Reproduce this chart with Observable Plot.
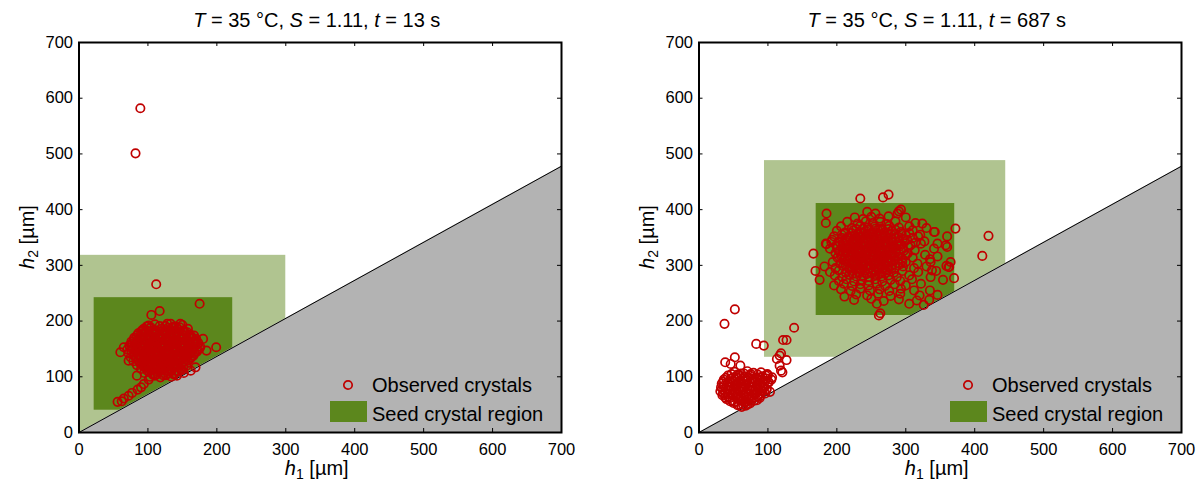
<!DOCTYPE html>
<html>
<head>
<meta charset="utf-8">
<script src="https://cdn.jsdelivr.net/npm/d3@7"></script>
<script src="https://cdn.jsdelivr.net/npm/@observablehq/plot@0.6"></script>
<style>
  body { margin: 0; background: #fff; font-family: "Liberation Sans", Arial, sans-serif; color: #000; }
  #wrap { position: relative; width: 1200px; height: 482px; overflow: hidden; }
  .panel { position: absolute; top: 0; width: 600px; height: 482px; }
  .panel svg { position: absolute; left: 0; top: 0; }
  .lbl { position: absolute; font-size: 20px; line-height: 20px; white-space: nowrap; }
  .lbl sub { font-size: 70%; line-height: 0; vertical-align: -0.3em; }
  .swatch { position: absolute; }
</style>
</head>
<body>
<div id="wrap"></div>
<script>
// Shared axis ticks and the h2 = k·h1 boundary of the inaccessible region
const ticks = [0, 100, 200, 300, 400, 500, 600, 700];
const boundary = [[0, 0], [700, 478]];

// Seed crystal regions: [h1 min, h1 max, h2 min, h2 max]
const seedOuter13 = [0, 300, 0, 318];
const seedInner13 = [22, 223, 40, 242];
const seedOuter687 = [95, 445, 135, 488];
const seedInner687 = [170, 371, 210, 411];

// Observed crystals at t = 13 s, [h1, h2] in µm
const crystals13 = [
  [82, 501], [89, 582], [112, 266], [175, 231], [105, 211], [117, 218],
  [199, 153], [185, 147], [180, 168], [65, 153], [60, 144], [72, 129], [84, 102],
  [94, 186], [101, 192], [128, 195], [147, 195], [169, 117], [162, 111],
  [56, 55], [62, 56], [65, 61], [72, 66], [77, 71], [85, 77], [90, 81], [94, 87], [101, 95],
  [98, 190], [110, 194], [125, 191], [133, 195], [141, 190], [150, 193],
  [92, 184], [103, 187], [112, 183], [119, 186], [127, 184], [136, 188], [144, 185], [152, 183], [158, 186],
  [86, 178], [95, 180], [101, 176], [108, 179], [116, 177], [123, 180], [131, 176], [138, 179], [146, 177], [153, 180], [161, 176],
  [80, 170], [89, 172], [97, 169], [104, 173], [111, 170], [118, 172], [126, 169], [134, 173], [141, 170], [149, 172], [156, 169], [164, 171], [170, 168],
  [76, 163], [84, 165], [92, 162], [99, 166], [106, 163], [114, 165], [121, 162], [129, 166], [137, 163], [144, 165], [151, 162], [159, 165], [166, 163], [173, 161],
  [73, 156], [81, 158], [88, 155], [95, 159], [103, 156], [110, 158], [117, 155], [124, 159], [132, 156], [139, 158], [147, 155], [154, 158], [162, 156], [169, 158], [176, 154],
  [70, 149], [78, 151], [86, 148], [93, 152], [100, 149], [107, 151], [114, 148], [121, 152], [128, 149], [136, 151], [143, 148], [150, 152], [158, 149], [165, 151], [172, 148],
  [72, 142], [80, 144], [87, 141], [95, 145], [102, 142], [109, 144], [117, 141], [124, 145], [131, 142], [138, 144], [146, 141], [153, 144], [160, 142], [168, 143],
  [75, 135], [83, 137], [90, 134], [97, 138], [104, 135], [112, 137], [119, 134], [126, 138], [133, 135], [141, 137], [148, 134], [156, 137], [163, 135],
  [79, 128], [86, 130], [93, 127], [100, 131], [108, 128], [115, 130], [122, 127], [130, 131], [137, 128], [144, 130], [151, 127], [158, 129],
  [84, 121], [91, 123], [98, 120], [105, 124], [112, 121], [120, 123], [127, 120], [134, 124], [141, 121], [148, 123], [156, 120],
  [90, 114], [97, 116], [104, 113], [111, 117], [118, 114], [126, 116], [133, 113], [140, 117], [148, 114],
  [95, 107], [102, 109], [109, 106], [116, 110], [123, 107], [131, 109], [138, 106], [145, 110], [152, 107],
  [103, 100], [110, 102], [118, 99], [126, 103], [134, 100], [142, 102],
  [104, 189], [117, 191], [129, 188], [137, 190], [146, 189],
  [90, 181], [98, 183], [105, 182], [112, 180], [120, 182], [127, 181], [135, 183], [142, 181], [150, 182], [157, 180],
  [84, 174], [93, 175], [100, 173], [108, 176], [115, 174], [122, 175], [130, 173], [137, 176], [145, 174], [152, 175], [160, 173], [167, 174],
  [80, 167], [88, 168], [95, 166], [103, 169], [110, 167], [117, 168], [125, 166], [133, 169], [140, 167], [147, 168], [155, 166], [162, 168], [170, 165],
  [77, 160], [85, 161], [92, 159], [99, 162], [107, 160], [114, 161], [121, 159], [128, 162], [136, 160], [143, 161], [150, 159], [158, 161], [165, 160], [172, 158],
  [74, 153], [82, 154], [90, 152], [97, 155], [104, 153], [111, 154], [118, 152], [125, 155], [132, 153], [140, 154], [147, 152], [154, 155], [161, 153], [168, 154], [175, 151],
  [76, 146], [83, 147], [91, 145], [98, 148], [105, 146], [113, 147], [120, 145], [127, 148], [135, 146], [142, 147], [149, 145], [157, 147], [164, 146], [171, 145],
  [79, 139], [87, 140], [94, 138], [101, 141], [108, 139], [115, 140], [122, 138], [130, 141], [137, 139], [145, 140], [152, 138], [160, 140], [166, 138],
  [83, 132], [90, 133], [97, 131], [104, 134], [111, 132], [119, 133], [126, 131], [133, 134], [140, 132], [148, 133], [155, 131], [161, 132],
  [88, 125], [95, 126], [102, 124], [109, 127], [116, 125], [123, 126], [131, 124], [138, 127], [145, 125], [152, 126],
  [94, 118], [101, 119], [108, 117], [115, 120], [122, 118], [129, 119], [137, 117], [144, 120], [151, 118],
  [99, 111], [106, 112], [113, 110], [120, 113], [127, 111], [134, 112], [142, 110], [149, 112],
  [107, 104], [114, 105], [122, 103], [130, 106], [138, 104]
];

// Observed crystals at t = 687 s, [h1, h2] in µm
const crystals687 = [
  // small crystals near the origin
  [37, 195], [52, 221], [138, 188], [83, 159], [94, 156], [122, 166], [127, 166],
  [119, 142], [113, 132], [127, 130], [119, 111], [99, 105], [106, 99], [101, 90], [98, 78],
  [38, 126], [46, 123], [52, 135], [60, 120], [117, 120], [117, 138], [121, 108], [97, 102],
  [52, 109], [61, 106], [70, 110], [79, 107], [90, 108],
  [42, 102], [50, 99], [58, 103], [66, 100], [74, 102], [83, 99], [92, 101], [100, 103],
  [36, 95], [44, 92], [52, 96], [60, 93], [68, 95], [76, 92], [85, 96], [96, 93], [105, 95],
  [33, 88], [40, 85], [48, 89], [56, 86], [64, 88], [72, 85], [80, 89], [89, 86], [99, 88],
  [32, 81], [39, 78], [46, 82], [54, 79], [62, 81], [70, 78], [78, 82], [86, 79], [95, 81],
  [31, 74], [38, 71], [45, 75], [52, 72], [60, 74], [68, 71], [76, 75], [84, 72], [92, 74], [103, 73],
  [34, 67], [42, 64], [49, 68], [57, 65], [65, 67], [73, 64], [81, 68], [89, 66],
  [40, 60], [48, 57], [56, 61], [64, 58], [72, 60], [80, 57], [88, 62],
  [50, 53], [58, 50], [66, 54], [74, 52], [62, 46], [68, 48],
  [47, 105], [56, 104], [65, 106], [75, 105], [85, 104],
  [39, 98], [47, 97], [55, 99], [63, 97], [71, 99], [79, 97], [88, 98], [97, 97],
  [35, 91], [42, 90], [50, 92], [58, 90], [66, 92], [74, 90], [82, 92], [92, 91], [101, 90],
  [36, 84], [44, 83], [52, 85], [60, 83], [68, 85], [76, 83], [84, 85], [93, 83],
  [35, 77], [42, 76], [50, 78], [58, 76], [66, 78], [74, 76], [82, 78], [90, 76], [98, 77],
  [35, 70], [42, 69], [49, 71], [56, 69], [64, 71], [72, 69], [80, 71], [88, 69], [96, 70],
  [38, 63], [45, 62], [53, 64], [61, 62], [69, 64], [77, 62], [85, 64],
  [45, 56], [52, 55], [60, 57], [68, 55], [76, 57], [84, 58],
  [56, 49], [64, 50], [71, 51],
  // grown seed crystals
  [234, 420], [267, 422], [275, 427], [185, 393], [184, 376], [184, 339], [192, 342],
  [342, 360], [372, 366], [360, 333], [363, 297], [359, 299], [288, 393], [293, 400],
  [321, 355], [338, 291], [411, 317], [420, 353], [263, 214], [261, 210],
  [244, 396], [256, 393], [290, 397],
  [226, 386], [238, 383], [250, 387], [262, 384], [275, 388], [300, 386],
  [215, 378], [230, 375], [242, 379], [252, 376], [263, 378], [272, 374], [285, 379], [314, 376], [324, 375],
  [206, 370], [222, 367], [234, 371], [245, 368], [255, 370], [264, 366], [276, 371], [290, 368], [305, 370], [330, 367],
  [200, 362], [212, 359], [224, 363], [233, 360], [242, 362], [251, 358], [260, 363], [269, 359], [280, 362], [293, 360], [310, 363], [341, 360],
  [196, 352], [207, 355], [217, 351], [226, 354], [235, 352], [244, 356], [252, 351], [261, 354], [270, 352], [279, 355], [289, 351], [300, 354], [318, 352], [360, 352],
  [193, 346], [203, 343], [213, 347], [222, 344], [230, 346], [238, 343], [246, 347], [254, 344], [262, 346], [271, 343], [280, 347], [290, 344], [302, 346], [327, 343], [346, 339],
  [185, 338], [199, 336], [209, 339], [218, 335], [226, 338], [234, 336], [242, 339], [250, 335], [258, 338], [266, 336], [274, 339], [283, 335], [293, 338], [307, 336], [322, 339], [358, 336],
  [190, 330], [204, 327], [213, 331], [221, 328], [229, 330], [237, 327], [245, 331], [253, 328], [261, 330], [269, 327], [277, 331], [286, 328], [296, 330], [313, 327], [341, 330],
  [166, 321], [198, 322], [208, 319], [216, 323], [224, 320], [232, 322], [240, 319], [248, 323], [256, 320], [264, 322], [272, 319], [281, 323], [291, 320], [303, 322], [328, 319], [346, 316],
  [201, 314], [211, 311], [219, 315], [227, 312], [235, 314], [243, 311], [251, 315], [259, 312], [267, 314], [275, 311], [284, 315], [294, 312], [310, 314], [335, 311],
  [194, 306], [205, 303], [214, 307], [222, 304], [230, 306], [238, 303], [246, 307], [254, 304], [262, 306], [270, 303], [279, 307], [289, 304], [300, 306], [317, 303], [336, 306], [365, 306],
  [182, 298], [198, 295], [209, 299], [218, 296], [226, 298], [234, 295], [242, 299], [250, 296], [258, 298], [266, 295], [275, 299], [285, 296], [296, 298], [312, 295], [330, 298], [362, 297],
  [169, 290], [190, 288], [203, 291], [213, 287], [222, 290], [231, 288], [240, 291], [249, 287], [257, 290], [265, 288], [274, 291], [283, 287], [295, 290], [318, 288], [344, 290],
  [197, 282], [208, 279], [218, 283], [228, 280], [238, 282], [247, 279], [256, 283], [265, 280], [275, 282], [287, 279], [305, 282], [336, 279], [370, 277],
  [175, 274], [203, 272], [214, 275], [225, 271], [236, 274], [246, 272], [256, 275], [266, 271], [278, 274], [292, 272], [309, 275], [354, 274],
  [196, 264], [210, 267], [222, 263], [234, 266], [246, 264], [258, 267], [270, 263], [284, 266], [300, 264], [322, 267],
  [206, 257], [220, 254], [234, 258], [248, 255], [262, 257], [276, 254], [293, 258], [312, 255], [335, 255],
  [211, 244], [228, 248], [244, 246], [260, 249], [278, 245], [292, 249], [320, 246], [346, 247],
  [225, 238], [250, 240], [268, 236], [290, 239], [316, 237], [334, 238],
  [258, 231], [305, 231], [326, 229],
  [228, 365], [238, 366], [247, 364], [256, 366], [266, 364], [275, 365], [285, 364],
  [211, 357], [221, 358], [230, 356], [239, 358], [248, 356], [257, 358], [265, 356], [274, 358], [284, 356], [294, 357], [305, 358],
  [208, 349], [217, 350], [226, 348], [234, 350], [242, 348], [250, 350], [258, 348], [266, 350], [275, 348], [285, 350], [296, 348], [310, 349],
  [204, 341], [213, 342], [222, 340], [230, 342], [238, 340], [246, 342], [254, 340], [262, 342], [270, 340], [279, 342], [288, 340], [298, 342], [314, 341],
  [200, 333], [208, 334], [217, 332], [225, 334], [233, 332], [241, 334], [249, 332], [257, 334], [265, 332], [273, 334], [282, 332], [291, 334], [304, 333],
  [203, 325], [212, 326], [220, 324], [228, 326], [236, 324], [244, 326], [252, 324], [260, 326], [268, 324], [277, 326], [286, 324], [297, 326],
  [206, 317], [215, 318], [223, 316], [231, 318], [239, 316], [247, 318], [255, 316], [263, 318], [271, 316], [280, 318], [289, 316], [300, 318],
  [209, 309], [218, 310], [226, 308], [234, 310], [242, 308], [250, 310], [258, 308], [266, 310], [275, 308], [284, 310], [295, 308],
  [213, 301], [222, 302], [230, 300], [238, 302], [246, 300], [254, 302], [262, 300], [271, 302], [280, 300], [292, 302],
  [218, 293], [227, 294], [236, 292], [245, 294], [253, 292], [261, 294], [270, 292], [279, 294],
  [223, 285], [233, 286], [243, 284], [252, 286], [261, 284], [270, 286]
];

const titles = ["13", "687"];
const legendLabels = ["Observed crystals", "Seed crystal region"];

const colors = { light: "#b0c490", dark: "#5c871d", gray: "#b3b3b3", red: "#c00000" };

const PANEL_W = 600, PANEL_H = 482, MT = 42, MB = 50, PLOT_W = 482.5;

function drawPanel(left, marginLeft, outer, inner, points, time) {
  const panel = document.createElement("div");
  panel.className = "panel";
  panel.style.left = left + "px";
  document.getElementById("wrap").appendChild(panel);

  const innerH = PANEL_H - MT - MB;
  const xy = { x: d => d[0], y: d => d[1] };
  const chart = Plot.plot({
    width: PANEL_W,
    height: PANEL_H,
    marginTop: MT,
    marginBottom: MB,
    marginLeft: marginLeft,
    marginRight: PANEL_W - marginLeft - PLOT_W,
    x: { domain: [0, 700] },
    y: { domain: [0, 700] },
    style: { fontFamily: "Liberation Sans, Arial, sans-serif", fontSize: "16.5px", color: "#000", background: "transparent", overflow: "visible" },
    marks: [
      Plot.rect([outer], { x1: d => d[0], x2: d => d[1], y1: d => d[2], y2: d => d[3], fill: colors.light }),
      Plot.rect([inner], { x1: d => d[0], x2: d => d[1], y1: d => d[2], y2: d => d[3], fill: colors.dark }),
      Plot.areaY(boundary, { ...xy, fill: colors.gray }),
      Plot.line(boundary, { ...xy, stroke: "#000", strokeWidth: 1 }),
      Plot.dot(points, { ...xy, r: 4.2, stroke: colors.red, strokeWidth: 1.7, fill: "none" }),
      Plot.tickX(ticks, { x: d => d, insetTop: innerH - 4, stroke: "#000" }),
      Plot.tickX(ticks, { x: d => d, insetBottom: innerH - 4, stroke: "#000" }),
      Plot.tickY(ticks, { y: d => d, insetRight: PLOT_W - 4, stroke: "#000" }),
      Plot.tickY(ticks, { y: d => d, insetLeft: PLOT_W - 4, stroke: "#000" }),
      Plot.axisX(ticks, { tickSize: 0, tickPadding: 11, label: null }),
      Plot.axisY(ticks, { tickSize: 0, tickPadding: 6, label: null }),
      Plot.frame({ stroke: "#000", strokeWidth: 2 })
    ]
  });
  panel.appendChild(chart);

  const cx = marginLeft + PLOT_W / 2 - 3;
  const addLabel = (html, x, top, extra) => {
    const d = document.createElement("div");
    d.className = "lbl";
    d.innerHTML = html;
    d.style.left = x + "px";
    d.style.top = top + "px";
    if (extra) Object.assign(d.style, extra);
    panel.appendChild(d);
    return d;
  };

  // title and axis labels
  addLabel(`<i>T</i> = 35 °C, <i>S</i> = 1.11, <i>t</i> = ${time} s`, cx, 10, { transform: "translateX(-50%)" });
  addLabel(`<i>h</i><sub>1</sub> [µm]`, cx, 460, { transform: "translateX(-50%)", lineHeight: "16px" });
  addLabel(`<i>h</i><sub>2</sub> [µm]`, marginLeft - 52, 237, { transform: "translate(-50%, -50%) rotate(-90deg)" });

  // legend
  const lx = marginLeft;
  const svgNS = "http://www.w3.org/2000/svg";
  const mk = document.createElementNS(svgNS, "svg");
  mk.setAttribute("width", 14); mk.setAttribute("height", 14);
  mk.style.position = "absolute";
  mk.style.left = (lx + 269.8 - 7) + "px";
  mk.style.top = (385 - 7) + "px";
  const c = document.createElementNS(svgNS, "circle");
  c.setAttribute("cx", 7); c.setAttribute("cy", 7); c.setAttribute("r", 4.2);
  c.setAttribute("fill", "none"); c.setAttribute("stroke", colors.red); c.setAttribute("stroke-width", 1.7);
  mk.appendChild(c);
  panel.appendChild(mk);
  addLabel(legendLabels[0], lx + 293.5, 375);

  const sw = document.createElement("div");
  sw.className = "swatch";
  Object.assign(sw.style, { left: (lx + 251.5) + "px", top: "401px", width: "37px", height: "21px", background: colors.dark });
  panel.appendChild(sw);
  addLabel(legendLabels[1], lx + 293.5, 404);
}

drawPanel(0, 78.5, seedOuter13, seedInner13, crystals13, titles[0]);
drawPanel(600, 98.5, seedOuter687, seedInner687, crystals687, titles[1]);
</script>
</body>
</html>
